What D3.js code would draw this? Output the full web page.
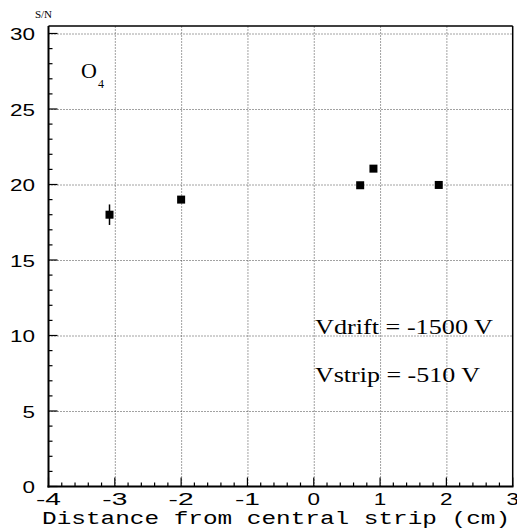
<!DOCTYPE html>
<html>
<head>
<meta charset="utf-8">
<script src="https://cdn.jsdelivr.net/npm/d3@7"></script>
<style>
  html, body { margin: 0; padding: 0; background: #fff; }
  svg { display: block; }
  .serif { font-family: "Liberation Serif", "DejaVu Serif", Times, serif; }
  .mono  { font-family: "Liberation Mono", "DejaVu Sans Mono", Courier, monospace; }
  .sans  { font-family: "Liberation Sans", "DejaVu Sans", Arial, sans-serif; }
</style>
</head>
<body>
<svg id="chart" width="517" height="532"></svg>
<script>
// Signal-to-noise vs. distance from the central strip
const distance = [-3.08, -2.0, 0.70, 0.90, 1.885];
const snr      = [18.0, 19.0, 19.95, 21.05, 19.97];
const snrErr   = [0.68, 0.2, 0.2, 0.2, 0.2];

const xTicks = [-4, -3, -2, -1, 0, 1, 2, 3];
const yTicks = [0, 5, 10, 15, 20, 25, 30];
const xTickLabels = ["-4", "-3", "-2", "-1", "0", "1", "2", "3"];
const yTickLabels = ["0", "5", "10", "15", "20", "25", "30"];

const svg = d3.select("#chart");

const x = d3.scaleLinear().domain([-4, 3]).range([48.5, 512.7]);
const y = d3.scaleLinear().domain([0, 30]).range([486.5, 33.5]);
const yTop = 30.5;

// dotted grid
const grid = svg.append("g")
  .attr("stroke", "#444").attr("stroke-width", 1)
  .attr("stroke-dasharray", "1,2").attr("fill", "none");
grid.selectAll("line.v").data(xTicks.filter(d => d > -4 && d < 3)).join("line")
  .attr("x1", d => x(d) + 0.5).attr("x2", d => x(d) + 0.5)
  .attr("y1", y(0)).attr("y2", y(yTop));
grid.selectAll("line.h").data(yTicks.filter(d => d > 0)).join("line")
  .attr("x1", x(-4)).attr("x2", x(3))
  .attr("y1", d => y(d) + 0.5).attr("y2", d => y(d) + 0.5);

// frame
svg.append("line").attr("x1", x(-4)).attr("x2", x(3))
  .attr("y1", y(yTop)).attr("y2", y(yTop)).attr("stroke", "#000").attr("stroke-width", 1.5);
svg.append("line").attr("x1", x(3)).attr("x2", x(3))
  .attr("y1", y(yTop)).attr("y2", y(0)).attr("stroke", "#000").attr("stroke-width", 1.5);

// minor / major ticks
const tk = svg.append("g").attr("stroke", "#000").attr("stroke-width", 1.2);
const xMinor = d3.range(-4, 3.001, 0.2);
tk.selectAll("line.xm").data(xMinor).join("line")
  .attr("x1", d => x(d)).attr("x2", d => x(d))
  .attr("y1", y(0)).attr("y2", d => y(0) - (Math.abs(d - Math.round(d)) < 1e-6 ? 9 : 4));
const yMinor = d3.range(0, 30.001, 1);
tk.selectAll("line.ym").data(yMinor).join("line")
  .attr("y1", d => y(d)).attr("y2", d => y(d))
  .attr("x1", x(-4)).attr("x2", d => x(-4) + (d % 5 === 0 ? 9 : 4));

// axes lines
svg.append("line").attr("x1", x(-4)).attr("x2", x(-4))
  .attr("y1", y(yTop)).attr("y2", y(0) + 1).attr("stroke", "#000").attr("stroke-width", 2);
svg.append("line").attr("x1", x(-4) - 1).attr("x2", x(3) + 0.75)
  .attr("y1", y(0)).attr("y2", y(0)).attr("stroke", "#000").attr("stroke-width", 2);

// tick labels
const lab = svg.append("g").attr("class", "sans")
  .attr("font-size", 17).attr("fill", "#000");
lab.selectAll("text.yl").data(yTicks).join("text")
  .attr("x", 35).attr("y", d => y(d) + 6.5)
  .attr("text-anchor", "end")
  .attr("textLength", (d, i) => yTickLabels[i].length * 12.5)
  .attr("lengthAdjust", "spacingAndGlyphs")
  .text((d, i) => yTickLabels[i]);
lab.selectAll("text.xl").data(xTicks).join("text")
  .attr("x", d => x(d)).attr("y", 505)
  .attr("text-anchor", "middle")
  .attr("textLength", (d, i) => xTickLabels[i].length * 12.5)
  .attr("lengthAdjust", "spacingAndGlyphs")
  .text((d, i) => xTickLabels[i]);

// axis titles
svg.append("text").attr("class", "mono").attr("x", 42).attr("y", 524)
  .attr("font-size", 18)
  .attr("textLength", 468).attr("lengthAdjust", "spacingAndGlyphs")
  .text("Distance from central strip (cm)");
svg.append("text").attr("class", "serif").attr("x", 43.5).attr("y", 18)
  .attr("text-anchor", "middle")
  .attr("font-size", 11)
  .text("S/N");

// annotations
const ann = svg.append("g").attr("class", "serif").attr("fill", "#000");
const o4 = ann.append("text").attr("x", 81).attr("y", 78).attr("font-size", 22);
o4.append("tspan").text("O");
o4.append("tspan").attr("dx", 1).attr("dy", 10).attr("font-size", 12).text("4");
ann.append("text").attr("x", 315).attr("y", 334).attr("font-size", 22)
  .attr("textLength", 178).attr("lengthAdjust", "spacingAndGlyphs")
  .text("Vdrift = -1500 V");
ann.append("text").attr("x", 315).attr("y", 382).attr("font-size", 22)
  .attr("textLength", 165).attr("lengthAdjust", "spacingAndGlyphs")
  .text("Vstrip = -510 V");

// error bars and markers
const pts = distance.map((d, i) => ({ x: d, y: snr[i], e: snrErr[i] }));
svg.append("g").selectAll("line").data(pts).join("line")
  .attr("x1", d => x(d.x)).attr("x2", d => x(d.x))
  .attr("y1", d => y(d.y - d.e)).attr("y2", d => y(d.y + d.e))
  .attr("stroke", "#000").attr("stroke-width", 1.5);
svg.append("g").selectAll("rect").data(pts).join("rect")
  .attr("x", d => x(d.x) - 4).attr("y", d => y(d.y) - 4)
  .attr("width", 8).attr("height", 8)
  .attr("fill", "#000");
</script>
</body>
</html>
